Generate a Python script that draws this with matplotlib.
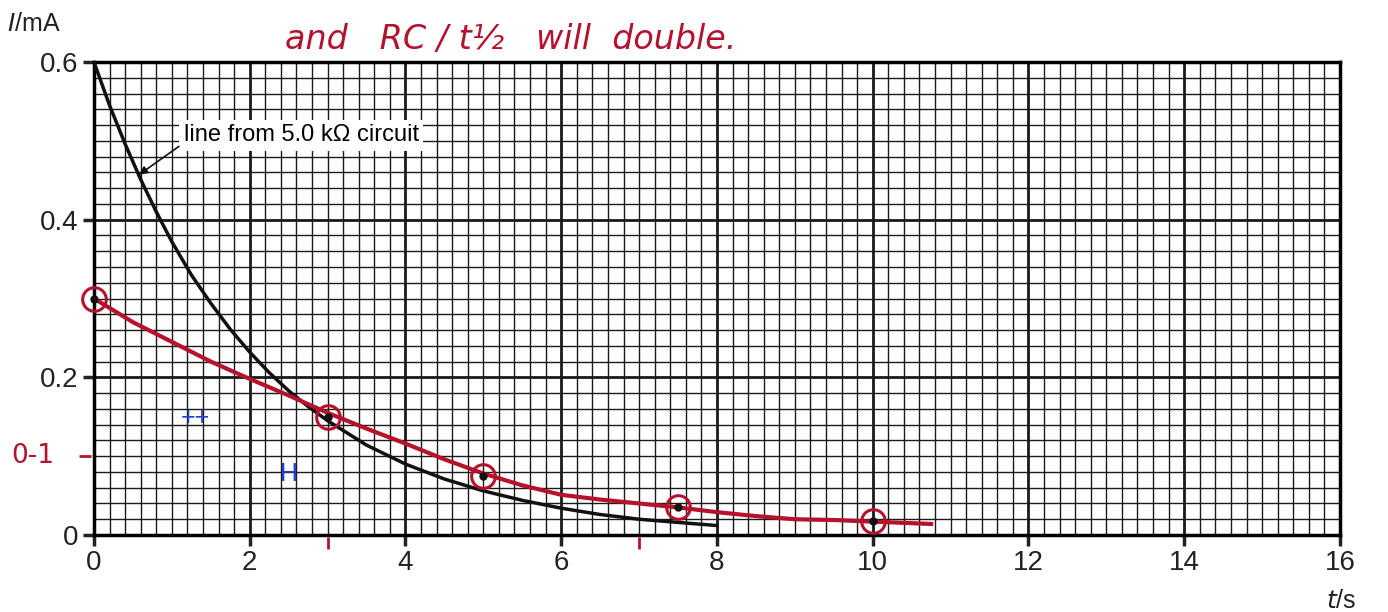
import numpy as np
import matplotlib
matplotlib.use("Agg")
import matplotlib.pyplot as plt

plt.rcParams['font.family'] = ['Liberation Sans', 'DejaVu Sans']

# line printed on the sheet (5.0 kOhm circuit)
t_black = [0, 0.2, 0.4, 0.6, 0.8, 1, 1.25, 1.5, 1.75, 2, 2.25, 2.5, 2.75, 3, 3.5,
           4, 4.5, 5, 5.5, 6, 6.5, 7, 7.5, 8]
i_black = [0.60, 0.545, 0.496, 0.451, 0.41, 0.372, 0.33, 0.294, 0.261, 0.232, 0.206,
           0.183, 0.163, 0.145, 0.114, 0.09, 0.071, 0.056, 0.044, 0.034, 0.026,
           0.020, 0.016, 0.012]

# hand drawn red line and the circled points
t_red = [0, 0.5, 1, 1.5, 2, 2.5, 3, 3.5, 4, 4.5, 5, 5.5, 6, 6.5, 7, 7.5, 8, 8.5, 9,
         9.5, 10, 10.75]
i_red = [0.30, 0.27, 0.245, 0.22, 0.198, 0.177, 0.155, 0.135, 0.116, 0.096, 0.078,
         0.063, 0.051, 0.045, 0.040, 0.035, 0.029, 0.024, 0.020, 0.019, 0.017, 0.014]
t_pts = [0, 3, 5, 7.5, 10]
i_pts = [0.30, 0.15, 0.075, 0.035, 0.018]

xticks = [0, 2, 4, 6, 8, 10, 12, 14, 16]
yticks = [0, 0.2, 0.4, 0.6]
ylabels = ["0", "0.2", "0.4", "0.6"]

red = "#b5122e"

fig = plt.figure(figsize=(13.88, 6.12), dpi=100)
ax = fig.add_axes([0.0677, 0.1258, 0.8977, 0.7729])
ax.set_xlim(0, 16)
ax.set_ylim(0, 0.6)

# graph paper
for x in np.arange(0, 16.01, 0.2):
    major = abs(x / 2 - round(x / 2)) < 1e-6
    ax.axvline(x, color="#1a1a1a", lw=2.0 if major else 1.0, zorder=1)
for y in np.arange(0, 0.601, 0.02):
    major = abs(y / 0.2 - round(y / 0.2)) < 1e-6
    ax.axhline(y, color="#1a1a1a", lw=2.0 if major else 1.0, zorder=1)

for s in ax.spines.values():
    s.set_linewidth(2.5)
ax.set_xticks(xticks)
ax.set_yticks(yticks)
ax.set_yticklabels(ylabels)
ax.tick_params(labelsize=20, width=2.5, length=8, colors="#222222", pad=3)

ax.plot(t_black, i_black, color="#111111", lw=2.5, zorder=3)
ax.plot(t_red, i_red, color=red, lw=3, zorder=4)
ax.plot(t_pts, i_pts, "o", ms=17, mfc="none", mec=red, mew=2.2, zorder=5, clip_on=False)
ax.plot(t_pts, i_pts, "o", ms=5, color="#111111", zorder=6, clip_on=False)

ax.text(1.15, 0.507, "line from 5.0 k\u03a9 circuit", fontsize=17, va="center", ha="left",
        bbox=dict(facecolor="white", edgecolor="none", pad=3), zorder=7)
ax.annotate("", xy=(0.55, 0.455), xytext=(1.12, 0.495),
            arrowprops=dict(arrowstyle="-|>", color="#111111", lw=1.2,
                            mutation_scale=12), zorder=7)

# handwriting
fig.text(0.205, 0.935, "and   RC / t\u00bd   will  double.", color=red, fontsize=24,
         family="DejaVu Sans", style="italic", va="center")
fig.text(0.008, 0.255, "0-1", color=red, fontsize=19, family="DejaVu Sans", va="center")
ax.plot([-0.12], [0.1], marker="_", ms=8, color=red, mew=2, clip_on=False)
ax.plot([3], [-0.01], marker="|", ms=8, color=red, mew=2, clip_on=False)
ax.plot([7], [-0.01], marker="|", ms=8, color=red, mew=2, clip_on=False)
ax.text(1.3, 0.148, "++", color="#1f3fd0", fontsize=18, ha="center", va="center", zorder=6)
ax.text(2.5, 0.078, "H", color="#1f3fd0", fontsize=18, ha="center", va="center", zorder=6)

fig.text(0.005, 0.96, "$I$/mA", fontsize=18, color="#222222", va="center")
fig.text(0.955, 0.018, "$t$/s", fontsize=18, color="#222222", va="center")

fig.savefig("out.png", dpi=100)
